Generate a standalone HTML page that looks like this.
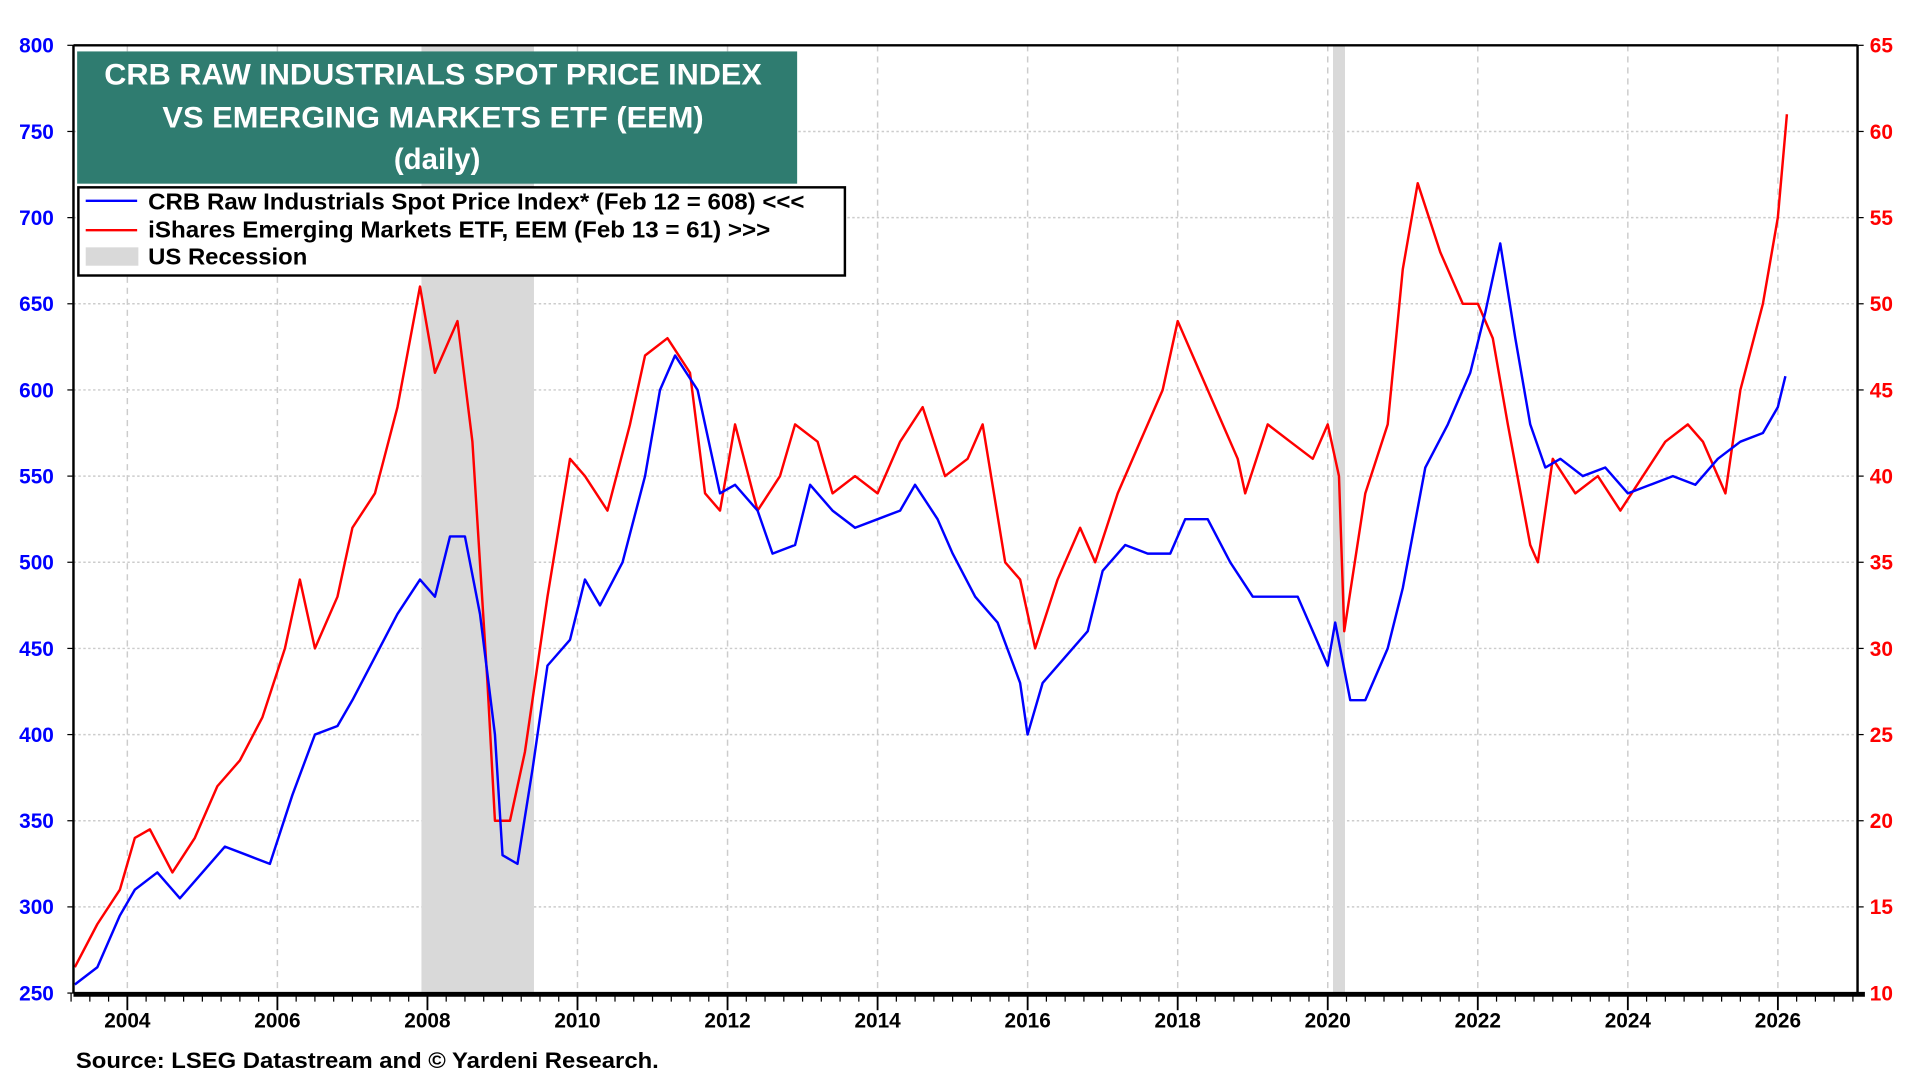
<!DOCTYPE html>
<html><head><meta charset="utf-8"><style>
html,body{margin:0;padding:0;background:#fff;width:1920px;height:1080px;overflow:hidden}
svg{display:block;font-family:"Liberation Sans",Arial,sans-serif;font-weight:bold}
</style></head><body>
<svg id="chart" width="1920" height="1080" viewBox="0 0 1568 882" preserveAspectRatio="none" xmlns="http://www.w3.org/2000/svg">
<g id="grid"></g>
<g id="rec"></g>
<g id="series"></g>
<g id="axes"></g>
<rect x="63" y="42" width="588" height="108" fill="#2f7c70"/>
<text fill="#fff" font-size="24" text-anchor="middle">
<tspan x="357" y="69" textLength="537" lengthAdjust="spacingAndGlyphs">CRB RAW INDUSTRIALS SPOT PRICE INDEX</tspan>
<tspan x="357" y="104" textLength="442" lengthAdjust="spacingAndGlyphs">VS EMERGING MARKETS ETF (EEM)</tspan>
<tspan x="357" y="138">(daily)</tspan></text>
<g>
<rect x="64" y="153" width="626" height="72" fill="#fff" stroke="#000" stroke-width="2"/>
<line x1="70" y1="164" x2="112" y2="164" stroke="#0000ff" stroke-width="2"/>
<text x="121" y="171" font-size="18.5" textLength="536" lengthAdjust="spacingAndGlyphs">CRB Raw Industrials Spot Price Index* (Feb 12 = 608) &lt;&lt;&lt;</text>
<line x1="70" y1="188" x2="112" y2="188" stroke="#ff0000" stroke-width="2"/>
<text x="121" y="194" font-size="18.5" textLength="508" lengthAdjust="spacingAndGlyphs">iShares Emerging Markets ETF, EEM (Feb 13 = 61) &gt;&gt;&gt;</text>
<rect x="70" y="202" width="43" height="15" fill="#d9d9d9"/>
<text x="121" y="216" font-size="18.5" textLength="130" lengthAdjust="spacingAndGlyphs">US Recession</text>
</g>
<text x="62" y="872" font-size="18" textLength="476" lengthAdjust="spacingAndGlyphs">Source: LSEG Datastream and © Yardeni Research.</text>
</svg>
<script>
const crbYears=[2003.3,2003.6,2003.9,2004.1,2004.4,2004.7,2005.0,2005.3,2005.6,2005.9,2006.2,2006.5,2006.8,2007.0,2007.3,2007.6,2007.9,2008.1,2008.3,2008.5,2008.7,2008.9,2009.0,2009.2,2009.4,2009.6,2009.9,2010.1,2010.3,2010.6,2010.9,2011.1,2011.3,2011.6,2011.9,2012.1,2012.4,2012.6,2012.9,2013.1,2013.4,2013.7,2014.0,2014.3,2014.5,2014.8,2015.0,2015.3,2015.6,2015.9,2016.0,2016.2,2016.5,2016.8,2017.0,2017.3,2017.6,2017.9,2018.1,2018.4,2018.7,2019.0,2019.3,2019.6,2019.9,2020.0,2020.1,2020.3,2020.5,2020.8,2021.0,2021.3,2021.6,2021.9,2022.1,2022.3,2022.5,2022.7,2022.9,2023.1,2023.4,2023.7,2024.0,2024.3,2024.6,2024.9,2025.2,2025.5,2025.8,2026.0,2026.1];
const crbValues=[255,265,295,310,320,305,320,335,330,325,365,400,405,420,445,470,490,480,515,515,470,400,330,325,380,440,455,490,475,500,550,600,620,600,540,545,530,505,510,545,530,520,525,530,545,525,505,480,465,430,400,430,445,460,495,510,505,505,525,525,500,480,480,480,450,440,465,420,420,450,485,555,580,610,645,685,630,580,555,560,550,555,540,545,550,545,560,570,575,590,608];
const eemYears=[2003.3,2003.6,2003.9,2004.1,2004.3,2004.6,2004.9,2005.2,2005.5,2005.8,2006.1,2006.3,2006.5,2006.8,2007.0,2007.3,2007.6,2007.9,2008.1,2008.4,2008.6,2008.8,2008.9,2009.1,2009.3,2009.6,2009.9,2010.1,2010.4,2010.7,2010.9,2011.2,2011.5,2011.7,2011.9,2012.1,2012.4,2012.7,2012.9,2013.2,2013.4,2013.7,2014.0,2014.3,2014.6,2014.9,2015.2,2015.4,2015.7,2015.9,2016.1,2016.4,2016.7,2016.9,2017.2,2017.5,2017.8,2018.0,2018.2,2018.5,2018.8,2018.9,2019.2,2019.5,2019.8,2020.0,2020.15,2020.22,2020.5,2020.8,2021.0,2021.2,2021.5,2021.8,2022.0,2022.2,2022.4,2022.7,2022.8,2023.0,2023.3,2023.6,2023.9,2024.2,2024.5,2024.8,2025.0,2025.3,2025.5,2025.8,2026.0,2026.1,2026.12];
const eemValues=[11.5,14,16,19,19.5,17,19,22,23.5,26,30,34,30,33,37,39,44,51,46,49,42,28,20,20,24,33,41,40,38,43,47,48,46,39,38,43,38,40,43,42,39,40,39,42,44,40,41,43,35,34,30,34,37,35,39,42,45,49,47,44,41,39,43,42,41,43,40,31,39,43,52,57,53,50,50,48,43,36,35,41,39,40,38,40,42,43,42,39,45,50,55,60,61];
const leftTicks=[250,300,350,400,450,500,550,600,650,700,750,800];
const rightTicks=[10,15,20,25,30,35,40,45,50,55,60,65];
const xTickYears=[2004,2006,2008,2010,2012,2014,2016,2018,2020,2022,2024,2026];
const recessionStarts=[2007.92,2020.07];
const recessionEnds=[2009.42,2020.23];

const X0=60,X1=1517,Y0=811,Y1=37;
const xs=y=>104+(y-2004)*61.27;
const yl=v=>Y0-(v-250)/550*(Y0-Y1);
const yr=v=>Y0-(v-10)/55*(Y0-Y1);
const NS="http://www.w3.org/2000/svg";
function mk(t,a,p){const e=document.createElementNS(NS,t);for(const k in a)e.setAttribute(k,a[k]);p.appendChild(e);return e;}
const grid=document.getElementById('grid'),rec=document.getElementById('rec'),ser=document.getElementById('series'),ax=document.getElementById('axes');

leftTicks.forEach(v=>{const l=mk('line',{x1:X0,x2:X1,y1:yl(v),y2:yl(v),stroke:'#ccc','stroke-width':1.2,'stroke-dasharray':'2,2'},grid);

});
xTickYears.forEach(y=>{const l=mk('line',{x1:xs(y),x2:xs(y),y1:Y1,y2:Y0,stroke:'#ccc','stroke-width':1.2,'stroke-dasharray':'5,4'},grid);

});
recessionStarts.forEach((s,i)=>{const r=mk('rect',{x:xs(s),y:Y1,width:xs(recessionEnds[i])-xs(s),height:Y0-Y1,fill:'#d9d9d9'},rec);

});

function path(xa,va,f,col){const d=xa.map((y,i)=>(i?'L':'M')+xs(y).toFixed(1)+','+f(va[i]).toFixed(1)).join('');return mk('path',{d:d,fill:'none',stroke:col,'stroke-width':2,'stroke-linejoin':'round'},ser);}
const pr=path(eemYears,eemValues,yr,'#ff0000');


const pb=path(crbYears,crbValues,yl,'#0000ff');



mk('line',{x1:X0,x2:X1,y1:Y1,y2:Y1,stroke:'#000','stroke-width':2},ax);
mk('line',{x1:X0,x2:X0,y1:Y1,y2:Y0,stroke:'#000','stroke-width':2},ax);
mk('line',{x1:X1,x2:X1,y1:Y1,y2:Y0,stroke:'#000','stroke-width':2},ax);
mk('line',{x1:X0,x2:X1+6,y1:Y0+1,y2:Y0+1,stroke:'#000','stroke-width':4},ax);
for(let q=2003.25;q<=2027.0;q+=0.25){mk('line',{x1:xs(q),x2:xs(q),y1:Y0,y2:Y0+7,stroke:'#000','stroke-width':1},ax);}
leftTicks.forEach(v=>{mk('line',{x1:X0-5,x2:X0,y1:yl(v),y2:yl(v),stroke:'#000'},ax);
const t=mk('text',{x:X0-16,y:yl(v)+6,'text-anchor':'end','font-size':17,fill:'#0000ff'},ax);t.textContent=v;

});
rightTicks.forEach(v=>{mk('line',{x1:X1,x2:X1+5,y1:yr(v),y2:yr(v),stroke:'#000'},ax);
const t=mk('text',{x:X1+10,y:yr(v)+6,'font-size':17,fill:'#ff0000'},ax);t.textContent=v;

});
xTickYears.forEach(y=>{mk('line',{x1:xs(y),x2:xs(y),y1:Y0,y2:Y0+14,stroke:'#000','stroke-width':1.5},ax);
const t=mk('text',{x:xs(y),y:Y0+28,'text-anchor':'middle','font-size':17,fill:'#000'},ax);t.textContent=y;

});
</script>
</body></html>
